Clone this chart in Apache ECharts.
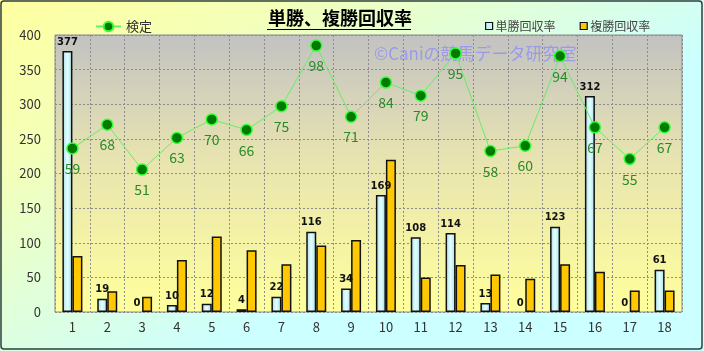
<!DOCTYPE html>
<html>
<head>
<meta charset="utf-8">
<script src="https://cdn.jsdelivr.net/npm/echarts@6/dist/echarts.min.js"></script>
<style>
  html, body { margin: 0; padding: 0; }
  #chart { width: 704px; height: 351px; }
</style>
</head>
<body>
<div id="chart"></div>
<script>
const races = ['1', '2', '3', '4', '5', '6', '7', '8', '9', '10', '11', '12', '13', '14', '15', '16', '17', '18']
const tanshoRate = [377, 19, 0, 10, 12, 4, 22, 116, 34, 169, 108, 114, 13, 0, 123, 312, 0, 61]
const fukushoRate = [81, 30, 22, 75, 109, 89, 69, 96, 104, 220, 50, 68, 54, 48, 69, 58, 31, 31]
const kentei = [59, 68, 51, 63, 70, 66, 75, 98, 71, 84, 79, 95, 58, 60, 94, 67, 55, 67]

const font = '"Noto Sans CJK JP", sans-serif'
const chart = echarts.init(document.getElementById('chart'))

// zero-height bars should not leave an outline on the axis
function barData(values) {
  return values.map((v) => (v === 0 ? { value: v, itemStyle: { borderWidth: 0 } } : v))
}

chart.setOption({
  animation: false,
  backgroundColor: new echarts.graphic.LinearGradient(0, 0, 0.3, 1, [
    { offset: 0, color: '#ffffa0' },
    { offset: 0.35, color: '#f4ffb8' },
    { offset: 1, color: '#ccffff' }
  ]),
  textStyle: { fontFamily: font },
  graphic: [
    {
      type: 'rect',
      shape: { x: 1, y: 1, width: 701, height: 348, r: 3 },
      style: { fill: 'none', stroke: '#2f3f3f', lineWidth: 1.5 },
      z: 100
    },
    {
      type: 'text',
      left: 268,
      top: 9,
      style: { text: '単勝、複勝回収率', font: 'bold 18px ' + font, fill: '#000' }
    },
    {
      type: 'line',
      shape: { x1: 267, y1: 29.5, x2: 411, y2: 29.5 },
      style: { stroke: '#000', lineWidth: 1 }
    },
    {
      type: 'text',
      left: 374,
      top: 45,
      z: 1,
      style: { text: '©Caniの競馬データ研究室', font: '17px ' + font, fill: 'rgba(130,130,255,0.65)' }
    }
  ],
  legend: [
    {
      left: 90,
      top: 15,
      itemWidth: 25,
      itemHeight: 12,
      itemGap: 4,
      textStyle: { fontSize: 13, color: '#333', fontFamily: font },
      data: ['検定']
    },
    {
      left: 480,
      top: 15,
      itemWidth: 7,
      itemHeight: 7,
      itemGap: 24,
      textStyle: { fontSize: 12, color: '#444', fontFamily: font, padding: [0, 0, 0, -2] },
      data: [
        { name: '単勝回収率', icon: 'rect', itemStyle: { color: '#c8f4f8', borderColor: '#111', borderWidth: 1.2 } },
        { name: '複勝回収率', icon: 'rect', itemStyle: { color: '#ffc800', borderColor: '#111', borderWidth: 1.2 } }
      ]
    }
  ],
  grid: {
    left: 55,
    right: 22,
    top: 35,
    bottom: 39,
    show: true,
    borderColor: '#8a8a8a',
    borderWidth: 1,
    backgroundColor: new echarts.graphic.LinearGradient(0, 0, 0, 1, [
      { offset: 0, color: '#c2c2c2' },
      { offset: 0.45, color: '#e8e4b0' },
      { offset: 1, color: '#ffff9c' }
    ])
  },
  xAxis: {
    type: 'category',
    data: races,
    axisLine: { show: false },
    axisTick: { show: false },
    axisLabel: { color: '#333', fontSize: 13, margin: 9 },
    splitLine: { show: true, interval: 0, lineStyle: { color: '#8c8c8c', type: [2, 2], width: 1 } }
  },
  yAxis: [
    {
      type: 'value',
      min: 0,
      max: 400,
      interval: 50,
      axisLine: { show: false },
      axisTick: { show: false },
      axisLabel: { color: '#333', fontSize: 13, margin: 14 },
      splitLine: { lineStyle: { color: '#8c8c8c', type: [2, 2], width: 1 } }
    },
    {
      type: 'value',
      min: -3,
      max: 102,
      show: false,
      splitLine: { show: false }
    }
  ],
  series: [
    {
      name: '単勝回収率',
      type: 'bar',
      data: barData(tanshoRate),
      barWidth: 10,
      barGap: '0%',
      itemStyle: {
        color: new echarts.graphic.LinearGradient(0, 0, 1, 0, [
          { offset: 0, color: '#a6dde6' },
          { offset: 0.5, color: '#e4ffff' },
          { offset: 1, color: '#a6dde6' }
        ]),
        borderColor: '#111',
        borderWidth: 1.5
      },
      label: {
        show: true,
        position: 'top',
        distance: 4,
        color: '#111',
        fontSize: 10,
        fontWeight: 'bold',
        fontFamily: 'DejaVu Sans, sans-serif'
      }
    },
    {
      name: '複勝回収率',
      type: 'bar',
      data: barData(fukushoRate),
      barWidth: 10,
      barGap: '0%',
      itemStyle: { color: '#ffc800', borderColor: '#111', borderWidth: 1.5 }
    },
    {
      name: '検定',
      type: 'line',
      yAxisIndex: 1,
      data: kentei,
      symbol: 'circle',
      symbolSize: 11,
      z: 5,
      lineStyle: { color: '#66ee66', width: 1 },
      itemStyle: { color: '#007a00', borderColor: '#33ff33', borderWidth: 1.5 },
      label: {
        show: true,
        position: 'bottom',
        distance: 7,
        color: '#2a8a2a',
        fontSize: 14
      }
    }
  ]
})
</script>
</body>
</html>
